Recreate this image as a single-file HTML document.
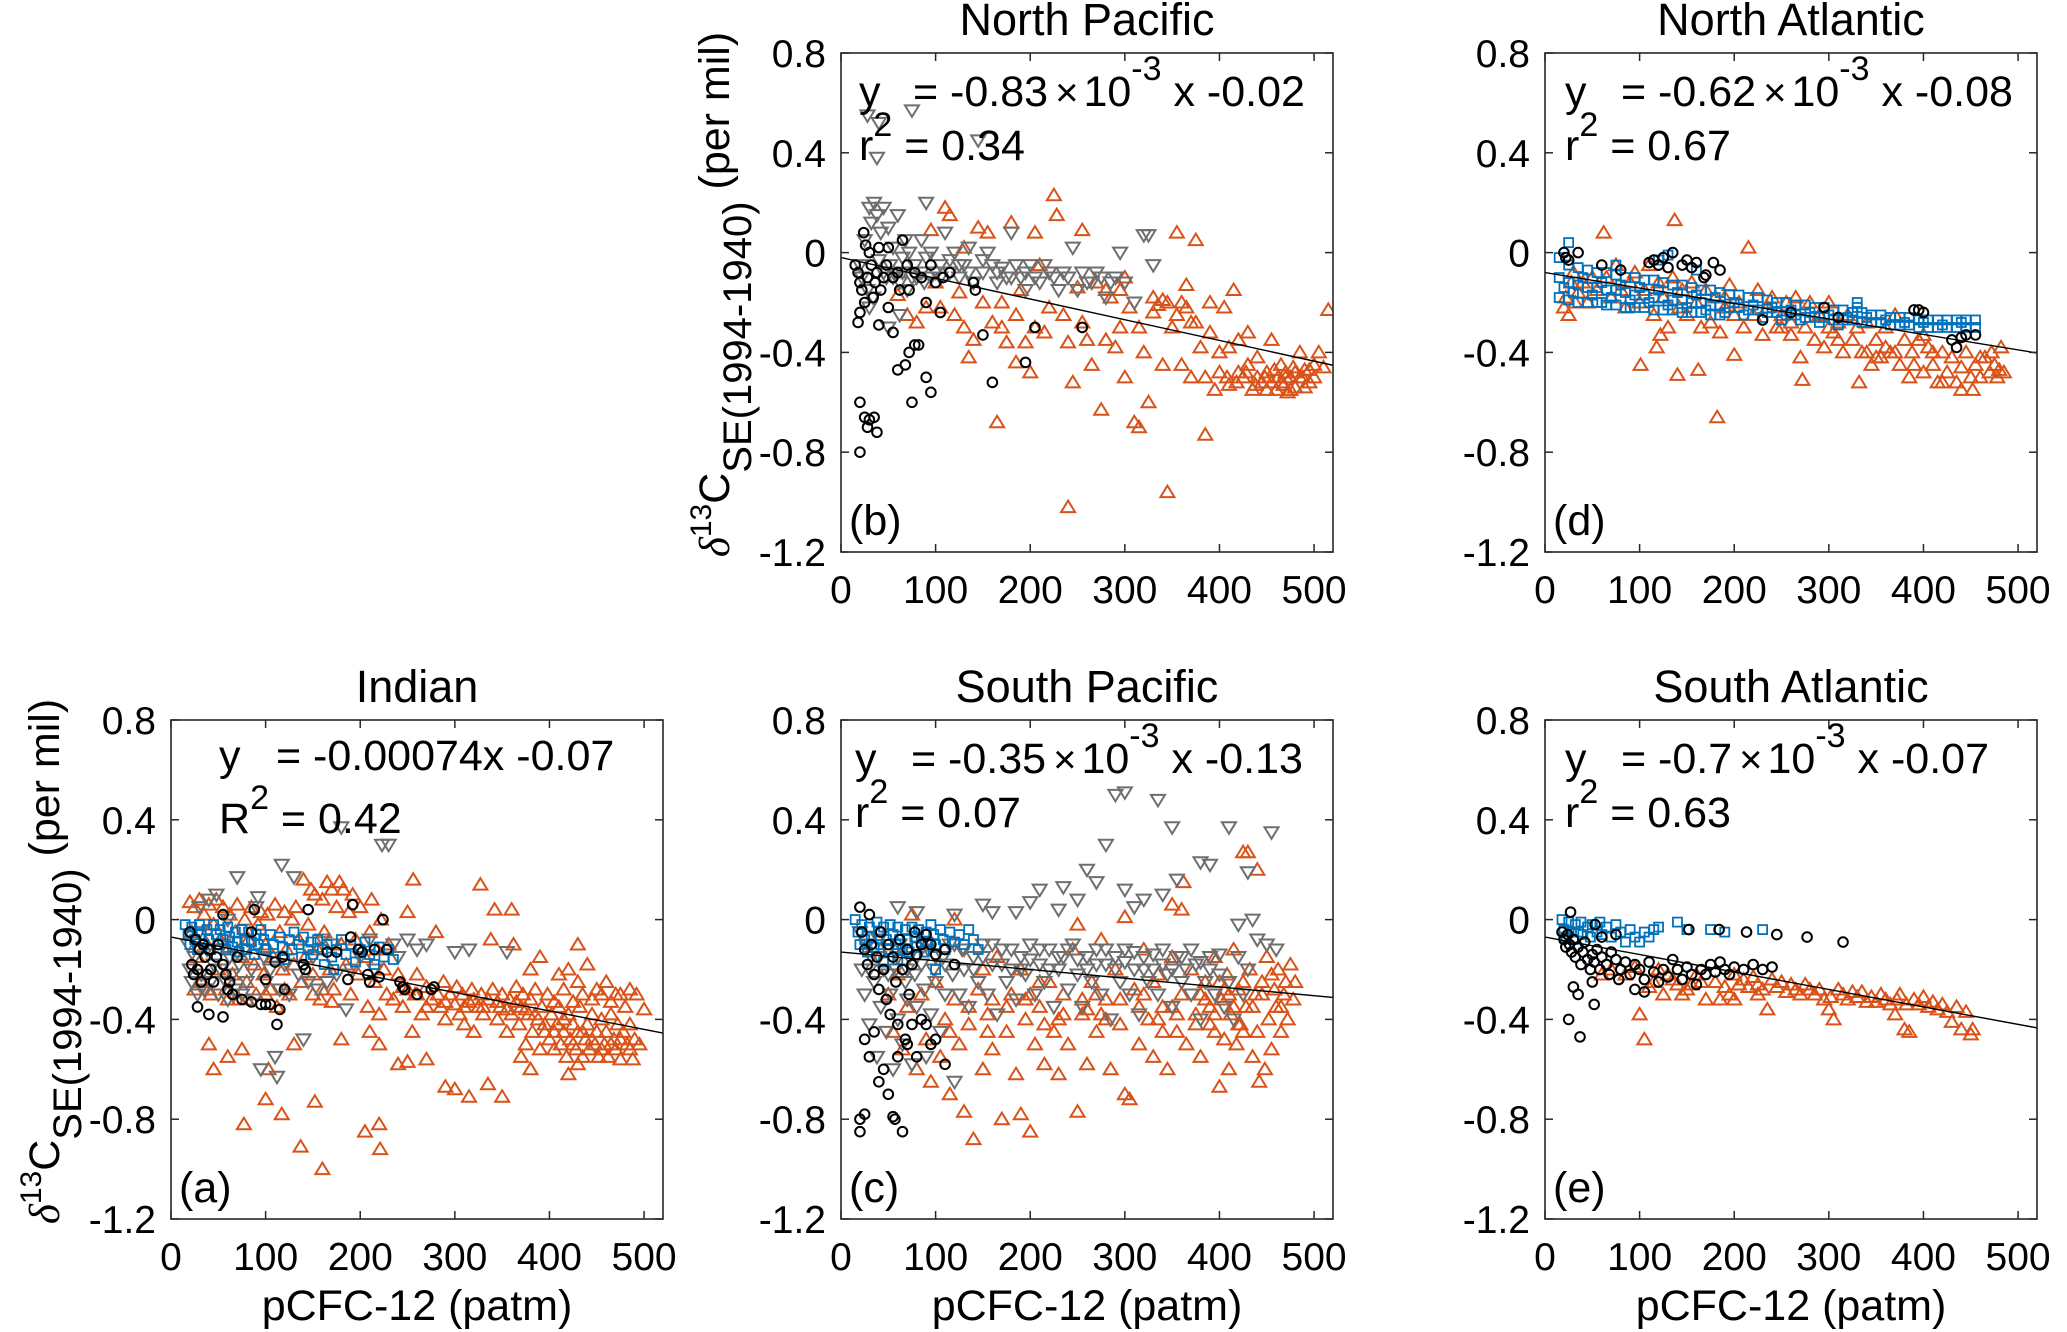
<!DOCTYPE html>
<html><head><meta charset="utf-8"><title>d13C vs pCFC-12</title>
<style>html,body{margin:0;padding:0;background:#fff}svg{display:block}text{font-family:"Liberation Sans",Arial,sans-serif;fill:#000}</style>
</head><body>
<svg id="fig" width="2067" height="1332" viewBox="0 0 2067 1332" xmlns="http://www.w3.org/2000/svg"></svg>
<script>
// ---------- data (x = pCFC-12 patm, y = d13C per mil), flat pairs ----------
const xTicks = [0,100,200,300,400,500];
const yTicks = [0.8,0.4,0,-0.4,-0.8,-1.2];
const yTickLabels = ["0.8","0.4","0","-0.4","-0.8","-1.2"];

const aOrange = [20,0.07,22,-0.05,25,0.05,28,-0.15,30,0.08,32,-0.25,35,0.02,38,-0.1,40,0.06,42,-0.3,45,-0.02,48,0.08,50,-0.2,52,-0.08,55,0.05,58,-0.28,60,-0.12,62,0.02,65,-0.22,68,-0.05,70,0.06,72,-0.32,75,-0.15,78,0.0,80,-0.25,82,-0.08,85,0.05,88,-0.18,90,-0.3,92,-0.02,95,0.03,98,-0.22,100,-0.1,102,0.02,105,-0.28,108,-0.15,110,0.06,112,-0.35,115,-0.05,118,-0.2,120,0.03,122,-0.12,125,-0.3,128,0.0,130,-0.18,132,0.05,135,-0.08,138,-0.25,140,0.16,142,-0.15,145,-0.02,148,0.12,150,-0.22,152,0.1,155,-0.12,158,-0.32,160,0.08,162,-0.05,165,0.15,168,-0.2,170,0.12,172,-0.28,175,0.05,178,0.15,180,-0.1,182,0.12,185,-0.18,188,0.03,190,-0.3,192,0.1,195,-0.08,198,-0.22,200,0.05,205,-0.15,208,-0.35,210,-0.05,212,0.08,215,-0.25,218,-0.12,220,-0.38,222,0.0,225,-0.2,228,-0.3,230,-0.1,
235,-0.32,240,-0.22,245,-0.35,250,-0.28,255,-0.45,258,-0.3,260,-0.22,265,-0.38,270,-0.27,275,-0.32,280,-0.05,282,-0.3,285,-0.35,288,-0.25,290,-0.4,295,-0.3,300,-0.34,302,-0.27,305,-0.38,308,-0.3,310,-0.42,315,-0.33,318,-0.28,320,-0.45,325,-0.35,328,-0.3,330,-0.38,335,-0.32,338,-0.08,340,-0.28,345,-0.4,348,-0.35,350,-0.3,355,-0.45,358,-0.32,360,-0.38,362,-0.1,365,-0.27,368,-0.42,370,-0.35,372,-0.3,375,-0.5,378,-0.38,380,-0.32,382,-0.45,385,-0.28,388,-0.4,390,-0.52,392,-0.35,395,-0.45,398,-0.3,400,-0.48,402,-0.38,405,-0.52,408,-0.42,410,-0.35,412,-0.5,415,-0.45,418,-0.55,420,-0.38,422,-0.48,425,-0.42,428,-0.52,430,-0.45,432,-0.35,435,-0.55,438,-0.48,440,-0.42,442,-0.52,445,-0.38,448,-0.5,450,-0.45,452,-0.55,455,-0.4,458,-0.5,460,-0.45,462,-0.55,465,-0.38,468,-0.48,470,-0.52,472,-0.42,475,-0.56,478,-0.45,480,-0.35,482,-0.5,485,-0.42,488,-0.56,490,-0.48,492,-0.3,495,-0.5,500,-0.36,410,-0.22,420,-0.2,430,-0.25,440,-0.18,450,-0.28,460,-0.25,470,-0.3,380,-0.2,390,-0.15,430,-0.1,
77,-0.82,100,-0.72,103,-0.6,117,-0.78,137,-0.91,152,-0.73,160,-1.0,205,-0.85,220,-0.82,221,-0.92,40,-0.5,45,-0.6,60,-0.55,75,-0.52,130,-0.5,250,-0.57,290,-0.67,300,-0.68,315,-0.71,335,-0.66,350,-0.71,327,0.14,360,0.04,342,0.04,250,0.03,256,0.16,270,-0.56,240,-0.58,220,-0.5,210,-0.45,180,-0.48,170,-0.33,380,-0.6,420,-0.62,430,-0.58,370,-0.55,
405,-0.45,415,-0.4,425,-0.5,435,-0.45,445,-0.48,455,-0.52,465,-0.5,475,-0.48,485,-0.52,395,-0.42,405,-0.33,415,-0.28,425,-0.33,435,-0.3,445,-0.32,455,-0.3,465,-0.33,475,-0.3,485,-0.28,345,-0.33,355,-0.36,365,-0.33,375,-0.36,385,-0.38,310,-0.35,320,-0.32,330,-0.35,290,-0.33,270,-0.35,260,-0.3,245,-0.27,150,-0.3,160,-0.28,120,-0.28,100,-0.3,80,-0.32,60,-0.32,40,-0.28,25,-0.28];
const aGray = [18,-0.1,20,-0.2,22,-0.25,25,-0.15,28,-0.3,30,-0.05,32,-0.22,35,-0.28,38,-0.12,40,0.08,42,-0.25,45,-0.18,48,0.1,50,-0.3,52,-0.2,55,-0.1,58,-0.25,60,-0.32,62,-0.15,65,-0.22,68,-0.28,70,0.17,72,-0.18,75,-0.3,78,-0.12,80,-0.25,85,-0.2,88,-0.32,92,0.09,95,-0.6,98,-0.15,100,-0.25,105,-0.2,110,-0.55,112,-0.63,115,-0.28,117,0.22,120,-0.18,125,-0.3,130,0.17,135,-0.22,140,-0.48,145,-0.25,150,-0.15,155,-0.28,160,-0.08,165,-0.25,170,-0.1,175,-0.22,180,0.37,185,-0.36,190,-0.2,200,-0.15,210,-0.08,215,-0.2,223,0.3,230,0.3,235,-0.1,240,-0.15,250,-0.08,260,-0.12,270,-0.1,300,-0.13,315,-0.12,355,-0.13,90,0.05,60,0.0,30,0.05];
const aBlue = [15,-0.02,18,-0.06,20,-0.1,22,-0.03,25,-0.08,28,-0.12,30,-0.02,32,-0.06,35,-0.1,38,-0.04,40,-0.08,42,-0.12,45,-0.02,48,-0.06,50,-0.1,52,-0.04,55,-0.08,58,-0.12,60,-0.03,62,-0.07,65,-0.11,68,-0.05,70,-0.09,72,-0.13,75,-0.04,78,-0.08,80,-0.12,82,-0.05,85,-0.09,88,-0.14,90,-0.06,92,-0.1,95,-0.04,98,-0.08,100,-0.12,105,-0.06,108,-0.1,110,-0.15,115,-0.07,118,-0.11,120,-0.16,125,-0.08,128,-0.12,130,-0.05,135,-0.1,138,-0.15,140,-0.07,145,-0.12,148,-0.09,150,-0.14,155,-0.08,160,-0.12,162,-0.18,165,-0.1,170,-0.15,172,-0.2,175,-0.12,180,-0.08,185,-0.14,190,-0.1,195,-0.17,200,-0.12,205,-0.09,210,-0.14,215,-0.18,220,-0.11,225,-0.15,230,-0.12,235,-0.16];
const aBlack = [55,0.02,88,0.04,145,0.04,192,0.06,224,0.0,85,-0.05,190,-0.07,20,-0.05,22,-0.18,24,-0.22,26,-0.08,28,-0.2,30,-0.12,32,-0.25,34,-0.1,36,-0.15,38,-0.22,40,-0.12,42,-0.2,45,-0.25,48,-0.15,50,-0.1,55,-0.18,58,-0.22,60,-0.28,62,-0.25,65,-0.3,75,-0.32,85,-0.33,40,-0.38,55,-0.39,28,-0.35,112,-0.42,115,-0.36,105,-0.34,95,-0.34,100,-0.34,100,-0.24,110,-0.17,118,-0.15,120,-0.28,140,-0.18,142,-0.2,165,-0.13,175,-0.13,198,-0.12,202,-0.13,208,-0.22,215,-0.12,220,-0.23,228,-0.12,242,-0.25,245,-0.27,247,-0.28,260,-0.3,275,-0.28,278,-0.27,210,-0.25,187,-0.24,70,-0.15];

const bOrange = [60,-0.17,70,-0.25,80,-0.28,90,-0.22,95,0.09,100,-0.12,105,-0.22,110,0.18,115,0.15,120,-0.25,125,-0.16,130,0.02,135,-0.42,140,-0.35,145,0.1,150,-0.2,155,0.08,160,-0.28,165,-0.68,170,-0.3,175,-0.36,180,0.12,185,-0.44,190,-0.15,195,-0.36,200,-0.48,205,0.08,210,-0.05,215,-0.32,220,-0.22,225,0.23,228,0.15,235,-0.25,240,-0.36,240,-1.02,245,-0.52,250,-0.14,255,0.09,260,-0.35,265,-0.45,270,-0.12,275,-0.63,280,-0.35,285,-0.18,290,-0.38,295,-0.15,300,-0.5,305,-0.22,310,-0.68,315,-0.7,320,-0.4,325,-0.6,330,-0.18,335,-0.21,340,-0.45,345,-0.96,350,-0.3,355,0.08,360,-0.45,365,-0.13,370,-0.28,375,0.05,380,-0.38,385,-0.73,385,-0.5,390,-0.2,395,-0.55,400,-0.48,405,-0.22,410,-0.53,415,-0.15,420,-0.35,425,-0.5,430,-0.45,435,-0.55,440,-0.42,445,-0.52,450,-0.48,455,-0.35,460,-0.55,462,-0.5,465,-0.45,468,-0.53,470,-0.48,472,-0.56,475,-0.5,478,-0.46,480,-0.54,485,-0.4,488,-0.5,490,-0.47,495,-0.52,500,-0.45,505,-0.4,510,-0.46,515,-0.23,360,-0.2,365,-0.22,330,-0.24,340,-0.19,300,-0.1,280,-0.15,390,-0.32,410,-0.38,430,-0.32,450,-0.55,455,-0.52,440,-0.5,420,-0.48,400,-0.4,370,-0.5,
465,-0.52,475,-0.55,485,-0.5,495,-0.47,470,-0.5,480,-0.48,490,-0.54,500,-0.5,458,-0.47,448,-0.5,438,-0.53,428,-0.48,418,-0.52,408,-0.5,345,-0.2,355,-0.25,375,-0.28,315,-0.3,295,-0.3,255,-0.28,205,-0.3,185,-0.25,170,-0.2,130,-0.3];
const bGray = [20,-0.05,22,-0.1,25,0.05,28,-0.15,30,0.18,32,0.12,35,0.2,38,0.15,40,-0.03,42,0.08,45,0.18,48,-0.1,50,0.1,52,-0.05,55,0.02,58,-0.08,60,0.15,62,-0.12,65,-0.02,68,0.05,70,-0.15,72,0.0,75,0.57,78,-0.05,80,-0.1,85,0.05,88,-0.12,90,-0.02,95,0.0,100,-0.08,105,-0.05,110,0.08,115,-0.03,120,0.0,125,-0.1,130,-0.05,135,0.02,140,-0.12,145,0.45,150,-0.08,155,0.0,160,-0.05,165,-0.12,170,-0.06,175,-0.1,180,0.08,185,-0.05,190,-0.1,195,-0.15,200,-0.05,210,-0.12,220,-0.08,230,-0.15,240,-0.1,245,0.02,250,-0.15,260,-0.12,270,-0.08,280,-0.18,290,-0.1,295,0.0,300,-0.12,310,-0.2,320,0.07,325,0.07,330,-0.05,40,0.52,28,0.55,38,0.38,62,-0.25,50,-0.3,90,0.2,30,-0.22,34,-0.18,
105,-0.1,115,-0.08,125,-0.05,135,-0.08,150,-0.03,165,-0.08,180,-0.1,195,-0.08,205,-0.1,215,-0.05,225,-0.1,235,-0.08,255,-0.08,265,-0.12,275,-0.1,285,-0.12,45,-0.08,55,-0.1,65,-0.08,75,-0.1,85,-0.08,95,-0.1];
const bBlack = [15,-0.05,18,-0.08,20,-0.12,22,-0.15,24,0.08,25,-0.2,26,0.03,28,-0.1,30,0.0,32,-0.05,34,-0.18,36,-0.12,38,-0.08,40,0.02,42,-0.15,45,-0.1,48,-0.05,50,0.02,55,-0.1,60,-0.08,62,-0.15,65,0.05,70,-0.05,72,-0.15,78,-0.08,85,-0.1,90,-0.2,95,-0.05,100,-0.12,105,-0.24,108,-0.1,115,-0.08,140,-0.12,142,-0.15,150,-0.33,20,-0.8,20,-0.6,25,-0.66,28,-0.7,30,-0.67,35,-0.66,38,-0.72,18,-0.28,20,-0.24,40,-0.29,55,-0.32,60,-0.47,68,-0.45,72,-0.4,78,-0.37,82,-0.37,75,-0.6,95,-0.56,160,-0.52,195,-0.44,205,-0.3,255,-0.3,90,-0.5,50,-0.22];

const cOrange = [50,-0.3,55,-0.45,60,-0.22,65,-0.52,70,-0.35,75,0.02,80,-0.6,85,-0.3,90,-0.48,95,-0.65,100,-0.25,105,-0.55,110,-0.4,115,-0.7,120,-0.32,125,-0.5,130,-0.77,135,-0.42,140,-0.88,145,-0.28,150,-0.6,155,-0.38,160,-0.52,165,-0.15,170,-0.8,175,-0.45,180,-0.3,185,-0.62,190,-0.78,195,-0.4,200,-0.85,205,-0.5,210,-0.35,215,-0.58,220,-0.25,225,-0.45,230,-0.62,235,-0.3,240,-0.5,245,-0.12,250,-0.77,255,-0.38,260,-0.58,265,-0.25,270,-0.45,275,-0.08,280,-0.32,285,-0.6,290,-0.2,295,-0.42,300,-0.7,305,-0.72,310,-0.28,315,-0.5,320,-0.12,325,-0.4,330,-0.55,335,-0.22,340,-0.35,345,-0.6,350,-0.15,355,-0.45,360,-0.3,362,0.15,365,-0.5,370,-0.2,375,-0.38,380,-0.55,385,-0.25,390,-0.42,395,-0.15,400,-0.67,402,-0.32,405,-0.48,408,-0.22,410,-0.6,412,-0.38,415,-0.12,418,-0.5,420,-0.28,422,-0.42,425,0.27,428,-0.35,430,0.27,432,-0.2,435,-0.55,438,-0.3,440,-0.45,442,-0.65,445,-0.25,448,-0.6,450,-0.15,452,-0.4,455,-0.52,458,-0.28,460,-0.35,462,-0.2,465,-0.45,468,-0.3,470,-0.25,472,-0.4,475,-0.18,478,-0.32,480,-0.25,440,0.2,350,0.06,360,0.04,300,0.01,250,-0.02,120,0.0,260,-0.36,270,-0.3,280,-0.4,320,-0.3,330,-0.25,340,-0.45,350,-0.35,380,-0.3,390,-0.35,400,-0.25,410,-0.3,420,-0.42,200,-0.3,210,-0.25,190,-0.2,230,-0.4,150,-0.2,160,-0.32,
385,-0.32,395,-0.38,405,-0.28,415,-0.35,425,-0.25,435,-0.35,445,-0.3,455,-0.22,465,-0.35,425,-0.45,395,-0.45,375,-0.42,355,-0.38,335,-0.4,315,-0.35,295,-0.32,275,-0.38,255,-0.32,235,-0.38,215,-0.42,195,-0.32,175,-0.35,155,-0.45,135,-0.35,115,-0.45];
const cGray = [20,-0.05,22,-0.2,25,-0.3,28,-0.1,30,-0.42,32,-0.15,35,-0.25,38,-0.55,40,-0.08,42,-0.35,45,-0.2,48,-0.45,50,-0.12,52,-0.3,55,-0.6,58,-0.2,60,-0.4,62,-0.1,65,-0.5,68,-0.25,70,-0.32,72,-0.15,75,-0.58,78,-0.22,80,-0.35,85,-0.18,88,-0.28,90,-0.55,92,-0.12,95,-0.38,98,-0.2,100,-0.25,105,-0.45,108,-0.15,110,-0.3,115,-0.1,118,-0.22,120,-0.65,125,-0.3,128,-0.12,130,-0.2,135,-0.35,140,-0.15,145,-0.25,150,-0.1,155,-0.3,160,-0.18,165,-0.38,170,-0.12,175,-0.25,180,-0.2,185,-0.32,190,-0.15,195,-0.22,200,-0.1,205,-0.3,210,-0.18,215,-0.25,220,-0.12,225,-0.35,230,-0.2,235,-0.15,240,-0.28,245,-0.1,250,-0.22,255,-0.35,260,-0.15,265,-0.25,270,-0.12,275,-0.3,280,-0.18,285,-0.4,290,-0.15,295,-0.25,300,-0.12,305,-0.3,310,-0.2,315,-0.38,320,-0.15,325,-0.25,330,-0.2,335,-0.3,340,-0.12,345,-0.22,350,-0.35,355,-0.15,360,-0.25,365,-0.2,370,-0.3,375,-0.18,380,-0.4,385,-0.25,390,-0.15,395,-0.3,400,-0.22,405,-0.35,410,-0.25,415,-0.4,420,-0.15,425,-0.3,430,-0.2,440,-0.08,450,-0.1,460,-0.12,
200,0.07,235,0.13,260,0.2,280,0.3,290,0.5,300,0.51,335,0.48,350,0.37,410,0.37,455,0.35,380,0.23,390,0.22,430,0.19,355,0.16,320,0.08,270,0.15,210,0.12,150,0.06,160,0.03,185,0.03,230,0.04,250,0.08,120,0.02,60,0.05,80,0.03,310,0.05,340,0.1,300,0.12,420,-0.02,435,0.0,
150,-0.15,160,-0.1,170,-0.18,180,-0.12,190,-0.2,200,-0.16,210,-0.12,220,-0.2,230,-0.15,240,-0.12,250,-0.16,260,-0.2,270,-0.18,280,-0.12,290,-0.2,300,-0.17,310,-0.13,320,-0.2,330,-0.14,340,-0.18,350,-0.2,360,-0.15,370,-0.12,380,-0.17,390,-0.2,400,-0.14,140,-0.2,130,-0.12,120,-0.1,110,-0.18,100,-0.15,90,-0.1,80,-0.15,70,-0.2,60,-0.15,50,-0.22,40,-0.15,30,-0.2];
const cBlue = [15,0.0,18,-0.05,20,-0.1,22,-0.02,25,-0.08,28,-0.13,30,-0.03,32,-0.07,35,-0.11,38,-0.01,40,-0.05,42,-0.1,45,-0.03,48,-0.08,50,-0.12,52,-0.02,55,-0.06,58,-0.1,60,-0.03,62,-0.08,65,-0.12,68,-0.04,70,-0.08,72,-0.13,75,-0.03,78,-0.07,80,-0.11,82,-0.04,85,-0.09,88,-0.13,90,-0.05,92,-0.09,95,-0.02,98,-0.06,100,-0.1,105,-0.04,108,-0.08,110,-0.12,115,-0.05,120,-0.09,125,-0.06,130,-0.1,135,-0.04,140,-0.08,145,-0.12,100,-0.2,60,-0.16,45,-0.17];
const cBlack = [20,0.05,22,-0.05,25,-0.12,28,-0.18,30,0.02,32,-0.1,35,-0.22,38,-0.15,40,-0.28,42,-0.05,45,-0.2,48,-0.32,50,-0.1,52,-0.38,55,-0.15,58,-0.25,60,-0.42,62,-0.08,65,-0.2,68,-0.48,70,-0.12,72,-0.3,75,-0.18,78,-0.05,80,-0.14,85,-0.1,90,-0.06,95,-0.1,100,-0.14,110,-0.12,120,-0.18,20,-0.8,20,-0.85,25,-0.78,55,-0.79,57,-0.8,65,-0.85,50,-0.7,40,-0.65,45,-0.6,70,-0.5,80,-0.55,110,-0.58,95,-0.5,85,-0.4,30,-0.55,35,-0.45,25,-0.48,75,-0.42,90,-0.42,100,-0.48,60,-0.55];

const dOrange = [20,-0.22,22,-0.18,25,-0.25,28,-0.12,30,-0.08,32,-0.2,35,-0.16,40,-0.12,45,-0.2,50,-0.1,55,-0.15,62,0.08,65,-0.1,70,-0.18,75,-0.05,80,-0.15,85,-0.22,90,-0.12,95,-0.08,100,-0.2,101,-0.45,105,-0.15,110,-0.05,115,-0.25,118,-0.38,120,-0.12,122,-0.33,125,-0.18,130,-0.3,135,-0.1,137,0.13,140,-0.49,142,-0.22,145,-0.15,150,-0.25,155,-0.12,160,-0.2,162,-0.47,165,-0.3,170,-0.15,175,-0.28,180,-0.18,182,-0.66,185,-0.32,190,-0.22,195,-0.13,200,-0.41,205,-0.2,210,-0.3,215,0.02,220,-0.25,225,-0.15,230,-0.33,235,-0.22,240,-0.18,245,-0.3,250,-0.25,255,-0.2,260,-0.33,265,-0.18,270,-0.42,272,-0.51,275,-0.3,280,-0.2,285,-0.35,290,-0.25,295,-0.38,300,-0.2,305,-0.32,310,-0.28,315,-0.4,320,-0.25,325,-0.35,330,-0.3,332,-0.52,335,-0.4,340,-0.28,345,-0.45,350,-0.35,355,-0.42,360,-0.3,365,-0.4,370,-0.25,375,-0.45,380,-0.35,385,-0.5,388,-0.4,390,-0.45,395,-0.35,400,-0.48,405,-0.38,410,-0.45,415,-0.52,420,-0.4,425,-0.48,430,-0.42,435,-0.52,440,-0.46,445,-0.4,450,-0.5,452,-0.55,455,-0.45,460,-0.5,465,-0.42,470,-0.48,472,-0.4,475,-0.45,478,-0.5,480,-0.47,482,-0.38,485,-0.48,340,-0.4,350,-0.42,360,-0.38,370,-0.4,300,-0.3,310,-0.35,260,-0.28,250,-0.3,200,-0.25,190,-0.18,420,-0.52,440,-0.55,460,-0.42,400,-0.33,410,-0.4];
const dBlue = [15,-0.02,15,-0.1,15,-0.18,25,-0.05,25,-0.12,25,-0.19,35,-0.06,35,-0.13,35,-0.2,45,-0.07,45,-0.14,45,-0.2,55,-0.08,55,-0.14,55,-0.2,65,-0.08,65,-0.15,65,-0.21,75,-0.09,75,-0.15,75,-0.21,85,-0.1,85,-0.16,85,-0.22,95,-0.1,95,-0.17,95,-0.22,105,-0.11,105,-0.17,105,-0.22,115,-0.11,115,-0.18,115,-0.23,125,-0.12,125,-0.18,125,-0.23,135,-0.13,135,-0.19,135,-0.23,145,-0.13,145,-0.19,145,-0.24,155,-0.14,155,-0.2,155,-0.24,165,-0.15,165,-0.2,165,-0.24,175,-0.15,175,-0.21,175,-0.25,185,-0.16,185,-0.21,185,-0.25,195,-0.17,195,-0.22,205,-0.17,205,-0.22,215,-0.18,215,-0.23,225,-0.18,225,-0.23,235,-0.19,235,-0.24,245,-0.2,245,-0.24,255,-0.2,255,-0.25,265,-0.21,265,-0.25,275,-0.21,275,-0.26,285,-0.22,285,-0.26,295,-0.22,295,-0.26,305,-0.23,305,-0.27,315,-0.23,315,-0.27,325,-0.24,325,-0.27,335,-0.24,335,-0.28,345,-0.25,345,-0.28,355,-0.25,355,-0.28,365,-0.26,365,-0.29,375,-0.26,375,-0.29,385,-0.26,385,-0.29,395,-0.27,395,-0.3,405,-0.27,405,-0.3,415,-0.27,415,-0.3,425,-0.27,425,-0.3,435,-0.27,435,-0.3,445,-0.27,445,-0.3,455,-0.27,455,-0.3,25,0.04,120,-0.03,130,-0.01,160,-0.07,75,-0.05,330,-0.2,330,-0.22,90,-0.22,60,-0.2,
20,-0.14,30,-0.16,40,-0.1,50,-0.17,60,-0.12,70,-0.18,80,-0.13,90,-0.19,100,-0.14,110,-0.2,120,-0.15,130,-0.21,140,-0.16,150,-0.22,160,-0.17,170,-0.23,180,-0.18,190,-0.24,200,-0.2,210,-0.25,220,-0.21,230,-0.26,240,-0.22,250,-0.27,260,-0.23,270,-0.27,280,-0.24,290,-0.28,300,-0.25,310,-0.29,320,-0.26,340,-0.26,360,-0.27,380,-0.28,400,-0.28,420,-0.29,440,-0.28];
const dBlack = [20,0.0,22,-0.02,25,-0.03,35,0.0,110,-0.04,115,-0.03,120,-0.05,125,-0.02,130,-0.06,135,0.0,145,-0.05,150,-0.03,155,-0.06,160,-0.04,170,-0.09,178,-0.04,185,-0.07,168,-0.1,230,-0.27,260,-0.24,295,-0.22,310,-0.26,390,-0.23,395,-0.23,400,-0.24,430,-0.35,435,-0.38,440,-0.34,445,-0.33,455,-0.33,60,-0.05,80,-0.07];

const eOrange = [60,-0.22,70,-0.2,85,-0.22,95,-0.19,100,-0.38,110,-0.27,115,-0.25,125,-0.3,130,-0.22,140,-0.26,145,-0.3,150,-0.28,155,-0.26,165,-0.25,170,-0.32,180,-0.25,185,-0.32,190,-0.27,200,-0.22,205,-0.26,210,-0.24,215,-0.27,220,-0.23,225,-0.26,230,-0.28,235,-0.36,240,-0.24,245,-0.27,250,-0.25,255,-0.29,260,-0.26,265,-0.28,270,-0.3,275,-0.26,280,-0.28,285,-0.3,290,-0.28,295,-0.32,300,-0.36,302,-0.31,305,-0.4,310,-0.28,315,-0.3,320,-0.32,325,-0.29,330,-0.31,335,-0.29,340,-0.33,345,-0.31,350,-0.33,355,-0.3,360,-0.32,365,-0.34,370,-0.38,372,-0.32,375,-0.3,380,-0.44,382,-0.34,385,-0.45,390,-0.32,395,-0.34,400,-0.31,405,-0.35,410,-0.33,415,-0.36,420,-0.34,425,-0.37,430,-0.41,435,-0.35,440,-0.44,445,-0.37,450,-0.46,452,-0.44,105,-0.48,120,-0.2,135,-0.24,160,-0.22,195,-0.3,200,-0.32,225,-0.3];
const eBlue = [18,0.0,20,-0.04,22,-0.07,25,-0.01,28,-0.05,30,-0.08,32,-0.02,35,-0.05,38,-0.01,40,-0.06,45,-0.03,48,-0.07,50,-0.02,55,-0.05,58,-0.01,60,-0.06,65,-0.03,70,-0.07,75,-0.02,80,-0.05,85,-0.09,90,-0.04,95,-0.07,100,-0.09,105,-0.05,110,-0.07,120,-0.03,140,-0.01,150,-0.04,175,-0.04,190,-0.05,230,-0.04,115,-0.04];
const eBlack = [27,0.03,18,-0.05,20,-0.08,22,-0.11,24,-0.06,26,-0.1,28,-0.13,30,-0.08,32,-0.15,35,-0.11,38,-0.18,40,-0.13,42,-0.09,45,-0.16,48,-0.2,50,-0.14,52,-0.17,55,-0.12,58,-0.2,60,-0.15,65,-0.18,68,-0.22,70,-0.13,75,-0.16,78,-0.24,80,-0.2,85,-0.17,90,-0.22,95,-0.18,100,-0.2,105,-0.24,110,-0.17,115,-0.21,120,-0.25,125,-0.2,130,-0.23,135,-0.16,140,-0.2,145,-0.24,150,-0.19,155,-0.22,160,-0.26,165,-0.2,170,-0.22,175,-0.18,180,-0.21,185,-0.17,190,-0.2,195,-0.22,200,-0.19,210,-0.2,220,-0.18,230,-0.2,240,-0.19,25,-0.4,37,-0.47,52,-0.34,30,-0.27,35,-0.3,50,-0.25,105,-0.29,95,-0.28,53,-0.02,152,-0.04,184,-0.04,213,-0.05,245,-0.06,277,-0.07,315,-0.09,60,-0.07,75,-0.06];

const fitSlopes = [-0.00074,-0.00083,-0.00035,-0.00062,-0.0007];
const fitIntercepts = [-0.07,-0.02,-0.13,-0.08,-0.07];

// ---------- rendering ----------
const NS = "http://www.w3.org/2000/svg";
const svg = document.getElementById('fig');
const XMAX = 520, YMIN = -1.2, YMAX = 0.8, W = 492, H = 499;
function el(tag, attrs, parent){ const e=document.createElementNS(NS,tag); for(const k in attrs) e.setAttribute(k,attrs[k]); (parent||svg).appendChild(e); return e; }

function drawPanel(p){
  const g = el('g',{});
  
  
  const sx = v => p.x0 + v/XMAX*W;
  const sy = v => p.y0 + (YMAX - v)/(YMAX-YMIN)*H;
  const clip = el('clipPath',{id:'clip-'+p.id},g);
  el('rect',{x:p.x0,y:p.y0,width:W,height:H},clip);
  const marks = el('g',{'clip-path':'url(#clip-'+p.id+')'},g);
  p.series.forEach(s=>{
    const sg = el('g',{fill:'none',stroke:s.color,'stroke-width':s.sw},marks);
    
    
    for(let i=0;i<s.data.length;i+=2){
      const cx=sx(s.data[i]), cy=sy(s.data[i+1]);
      let m;
      if(s.shape==='up') m=el('polygon',{points:`${cx},${cy-6.5} ${cx-7},${cy+5} ${cx+7},${cy+5}`},sg);
      else if(s.shape==='down') m=el('polygon',{points:`${cx},${cy+6.5} ${cx-7},${cy-5} ${cx+7},${cy-5}`},sg);
      else if(s.shape==='sq') m=el('rect',{x:cx-4.5,y:cy-4.5,width:9,height:9},sg);
      else m=el('circle',{cx:cx,cy:cy,r:4.8},sg);
      
      
    }
  });
  const fl = el('line',{x1:sx(0),y1:sy(fitIntercepts[p.k]),x2:sx(XMAX),y2:sy(fitSlopes[p.k]*XMAX+fitIntercepts[p.k]),stroke:'#000','stroke-width':1.4},marks);
  
  
  const box = el('rect',{x:p.x0,y:p.y0,width:W,height:H,fill:'none',stroke:'#262626','stroke-width':1.6},g);
  
  
  xTicks.forEach(t=>{
    const x=sx(t);
    el('line',{x1:x,y1:p.y0+H,x2:x,y2:p.y0+H-8,stroke:'#262626','stroke-width':1.5},g);
    el('line',{x1:x,y1:p.y0,x2:x,y2:p.y0+8,stroke:'#262626','stroke-width':1.5},g);
    const tl = el('text',{x:x,y:p.y0+H+51,'font-size':39,'text-anchor':'middle'},g);
    tl.textContent = String(t);
    
    
  });
  yTicks.forEach((t,i)=>{
    const y=sy(t);
    el('line',{x1:p.x0,y1:y,x2:p.x0+8,y2:y,stroke:'#262626','stroke-width':1.5},g);
    el('line',{x1:p.x0+W,y1:y,x2:p.x0+W-8,y2:y,stroke:'#262626','stroke-width':1.5},g);
    const tl = el('text',{x:p.x0-15,y:y+14,'font-size':39,'text-anchor':'end'},g);
    tl.textContent = yTickLabels[i];
    
    
  });
  const tt = el('text',{x:p.x0+W/2,y:p.y0-18,'font-size':45,'text-anchor':'middle'},g);
  tt.textContent = p.title;
  
  
  const pl = el('text',{x:p.x0+8,y:p.y0+H-17,'font-size':43},g);
  pl.textContent = '('+p.id+')';
  
  
  const ey = el('text',{x:p.x0+p.ex,y:p.y0+p.ey1,'font-size':43},g);
  ey.textContent='y';
  
  
  const eq = el('text',{x:p.x0+p.ex2,y:p.y0+p.ey1,'font-size':43},g);
  
  
  if(p.sci){
    let t1=el('tspan',{},eq); t1.textContent='= '+p.coef;
    let t2=el('tspan',{'font-size':40,dx:7},eq); t2.textContent='×';
    let t3=el('tspan',{dx:5},eq); t3.textContent='10';
    let t4=el('tspan',{dy:-26,'font-size':34},eq); t4.textContent='-3';
    let t5=el('tspan',{dy:26},eq); t5.textContent=' x -'+p.icpt.slice(1);
  } else { eq.textContent = '= '+p.coef+'x '+p.icpt; }
  const r2 = el('text',{x:p.x0+p.ex,y:p.y0+p.ey2,'font-size':43},g);
  
  
  let r1=el('tspan',{},r2); r1.textContent=p.rsym;
  let rs=el('tspan',{dy:-24,'font-size':34},r2); rs.textContent='2';
  let rv=el('tspan',{dy:24},r2); rv.textContent=' = '+p.r2;
  if(p.ylab){
    const yl = el('text',{transform:`translate(${p.x0-112},${p.y0+H/2-8}) rotate(-90)`,'font-size':43,'text-anchor':'middle'},g);
    
    
    let a1=el('tspan',{'font-style':'italic','font-family':'Liberation Serif, serif'},yl); a1.textContent='δ';
    let a2=el('tspan',{dy:-18,'font-size':30},yl); a2.textContent='13';
    let a3=el('tspan',{dy:18},yl); a3.textContent='C';
    let a4=el('tspan',{dy:22,'font-size':40},yl); a4.textContent='SE(1994-1940)';
    let a5=el('tspan',{dy:-22},yl); a5.textContent='  (per mil)';
  }
  if(p.xlab){
    const xl = el('text',{x:p.x0+W/2,y:1320,'font-size':43,'text-anchor':'middle'},g);
    xl.textContent='pCFC-12 (patm)';
    
    
  }
}

const O={shape:'up',color:'#D95319',sw:2,name:'orange-triangles'};
const G={shape:'down',color:'#6e6e6e',sw:2,name:'gray-triangles'};
const B={shape:'sq',color:'#0072BD',sw:1.8,name:'blue-squares'};
const K={shape:'circ',color:'#000',sw:2,name:'black-circles'};
function S(base,data){ return Object.assign({},base,{data:data}); }

drawPanel({id:'a',k:0,x0:171,y0:720,title:'Indian',ylab:true,xlab:true,ex:48,ex2:105,ey1:50,ey2:113,sci:false,coef:'-0.00074',icpt:'-0.07',rsym:'R',r2:'0.42',
  series:[S(O,aOrange),S(G,aGray),S(B,aBlue),S(K,aBlack)]});
drawPanel({id:'b',k:1,x0:841,y0:53,title:'North Pacific',ylab:true,xlab:false,ex:18,ex2:72,ey1:53,ey2:107,sci:true,coef:'-0.83',icpt:'-0.02',rsym:'r',r2:'0.34',
  series:[S(O,bOrange),S(G,bGray),S(K,bBlack)]});
drawPanel({id:'c',k:2,x0:841,y0:720,title:'South Pacific',ylab:false,xlab:true,ex:14,ex2:70,ey1:53,ey2:107,sci:true,coef:'-0.35',icpt:'-0.13',rsym:'r',r2:'0.07',
  series:[S(O,cOrange),S(G,cGray),S(B,cBlue),S(K,cBlack)]});
drawPanel({id:'d',k:3,x0:1545,y0:53,title:'North Atlantic',ylab:false,xlab:false,ex:20,ex2:76,ey1:53,ey2:107,sci:true,coef:'-0.62',icpt:'-0.08',rsym:'r',r2:'0.67',
  series:[S(O,dOrange),S(B,dBlue),S(K,dBlack)]});
drawPanel({id:'e',k:4,x0:1545,y0:720,title:'South Atlantic',ylab:false,xlab:true,ex:20,ex2:76,ey1:53,ey2:107,sci:true,coef:'-0.7',icpt:'-0.07',rsym:'r',r2:'0.63',
  series:[S(O,eOrange),S(B,eBlue),S(K,eBlack)]});
</script>
</body></html>
